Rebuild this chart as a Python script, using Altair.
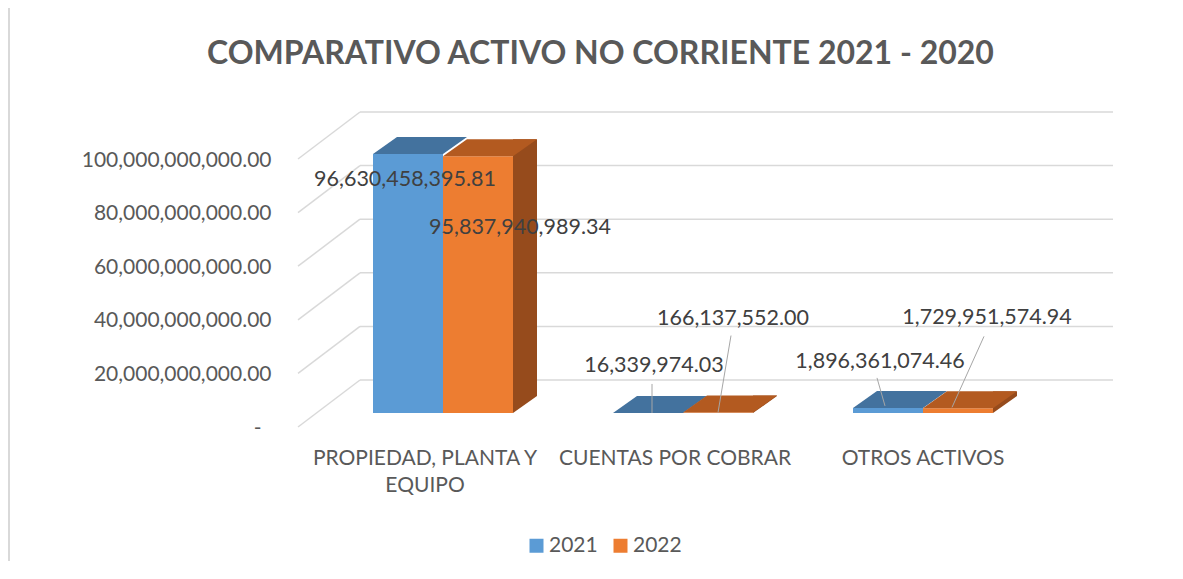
import altair as alt
import pandas as pd

# ---------------- data ----------------
categories = ["PROPIEDAD, PLANTA Y EQUIPO", "CUENTAS POR COBRAR", "OTROS ACTIVOS"]
years = ["2021", "2022"]
values_2021 = [96630458395.81, 16339974.03, 1896361074.46]
values_2022 = [95837940989.34, 166137552.00, 1729951574.94]
y_ticks = [0, 20000000000, 40000000000, 60000000000, 80000000000, 100000000000]

rows = []
for c, v1, v2 in zip(categories, values_2021, values_2022):
    rows.append({"category": c, "year": "2021", "value": v1})
    rows.append({"category": c, "year": "2022", "value": v2})
df = pd.DataFrame(rows)
ticks_df = pd.DataFrame({"tick": y_ticks})

# ---------------- styles ----------------
FONT = "Lato"
TEXT = "#595959"
LABEL_TEXT = "#404040"
GRID = "#D9D9D9"
FRONT = ["#5B9BD5", "#ED7D31"]
TOP = ["#43729E", "#B35A20"]
SIDE = "#964B1C"
DEPTH_X, DEPTH_Y = 24, 17

# label shifts (dx, dy) relative to the top-front centre of each bar
label_shift = {
    (categories[0], "2021"): (-3, 26),
    (categories[0], "2022"): (42, 72),
    (categories[1], "2021"): (6, -47),
    (categories[1], "2022"): (15, -94),
    (categories[2], "2021"): (-8, -46),
    (categories[2], "2022"): (29, -90),
}
leader_paths = {
    (categories[1], "2021"): "M 4 0 L 4 -29",
    (categories[1], "2022"): "M 0 0 L 13 -77",
    (categories[2], "2021"): "M -3 -2 L -11 -30",
    (categories[2], "2022"): "M -6 -1 L 26 -72",
}

W, H = 815, 268

x_scale = alt.Scale(domain=categories, range=[75, 695], paddingInner=100 / 240, paddingOuter=0)
X = alt.X(
    "category:N",
    scale=x_scale,
    sort=categories,
    title=None,
    axis=alt.Axis(
        labelAngle=0,
        domain=False,
        ticks=False,
        labelPadding=34,
        labelOffset={
            "condition": [
                {"test": "datum.value == 'PROPIEDAD, PLANTA Y EQUIPO'", "value": -18},
                {"test": "datum.value == 'OTROS ACTIVOS'", "value": 0},
            ],
            "value": -8,
        },
        labelFont=FONT,
        labelFontSize=21,
        labelColor=TEXT,
        labelLimit=400,
        labelLineHeight=27,
        labelExpr="datum.value == 'PROPIEDAD, PLANTA Y EQUIPO' ? ['PROPIEDAD, PLANTA Y', 'EQUIPO'] : datum.value",
    ),
)
XO = alt.XOffset("year:N", scale=alt.Scale(domain=years, paddingInner=0, paddingOuter=0))

y_scale = alt.Scale(domain=[0, 100000000000], nice=False)
y_axis = alt.Axis(
    values=y_ticks,
    grid=False,
    domain=False,
    ticks=False,
    labelPadding={"condition": {"test": "datum.value == 0", "value": 37}, "value": 27},
    labelOffset=15,
    labelFont=FONT,
    labelFontSize=21,
    labelColor=TEXT,
    labelLimit=400,
    labelExpr="datum.value == 0 ? '-' : format(datum.value, ',.2f')",
)


def yenc(field):
    return alt.Y(field, scale=y_scale, axis=y_axis, title=None)


base = alt.Chart(df)
one = alt.Chart(pd.DataFrame({"k": [0]}))

# chart frame (left edge only)
frame_left = one.mark_rect(color=GRID, strokeWidth=0).encode(
    x=alt.value(-290), x2=alt.value(-288), y=alt.value(-137), y2=alt.value(H + 148)
)

# back-wall gridlines
grid_back = alt.Chart(ticks_df).mark_rule(color=GRID, strokeWidth=1.5, yOffset=-33).encode(
    y=yenc("tick:Q"),
    x=alt.value(62),
    x2=alt.value(W),
)
# side-wall diagonals
grid_side = alt.Chart(ticks_df).mark_rule(color=GRID, strokeWidth=1.5, yOffset=14, y2Offset=-33).encode(
    y=yenc("tick:Q"),
    y2=alt.Y2("tick:Q"),
    x=alt.value(0),
    x2=alt.value(62),
)

last = base.transform_filter(alt.datum.year == "2022")
side_rect = last.mark_bar(
    width=DEPTH_X, xOffset=70 + DEPTH_X / 2, yOffset=-DEPTH_Y, y2Offset=-DEPTH_Y, color=SIDE
).encode(x=X, y=yenc("value:Q"), y2=alt.datum(0))
side_tri = last.transform_calculate(zero="0").mark_point(
    shape="M 70 0 L 70 -17 L 94 -17 Z", size=4, filled=True, opacity=1, color=SIDE, strokeWidth=0
).encode(x=X, y=yenc("zero:Q"))

front = base.mark_bar().encode(
    x=X,
    xOffset=XO,
    y=yenc("value:Q"),
    color=alt.Color(
        "year:N",
        scale=alt.Scale(domain=years, range=FRONT),
        legend=alt.Legend(
            title=None,
            orient="none",
            legendX=228,
            legendY=390,
            direction="horizontal",
            symbolType="square",
            symbolSize=196,
            symbolStrokeWidth=0,
            labelFont=FONT,
            labelFontSize=21,
            labelColor=TEXT,
            labelOffset=2,
            columnPadding=12,
        ),
    ),
)

top = base.mark_point(
    shape="M -35 0 L 35 0 L 59 -17 L -11 -17 Z", size=4, filled=True, opacity=1, strokeWidth=0
).encode(
    x=X,
    xOffset=XO,
    y=yenc("value:Q"),
    fill=alt.Fill("year:N", scale=alt.Scale(domain=years, range=TOP), legend=None),
)

layers = [frame_left, grid_back, grid_side, side_rect, side_tri, front, top]

for (c, yr), (dx, dy) in label_shift.items():
    sel = base.transform_filter((alt.datum.category == c) & (alt.datum.year == yr))
    if (c, yr) in leader_paths:
        layers.append(
            sel.mark_point(
                shape=leader_paths[(c, yr)], size=4, filled=False, opacity=1,
                stroke="#A6A6A6", strokeWidth=1,
            ).encode(x=X, xOffset=XO, y=yenc("value:Q"))
        )
    layers.append(
        sel.mark_text(
            dx=dx, dy=dy, font=FONT, fontSize=21.5, color=LABEL_TEXT, align="center", baseline="middle"
        ).encode(x=X, xOffset=XO, y=yenc("value:Q"), text=alt.Text("value:Q", format=",.2f"))
    )

chart = (
    alt.layer(*layers)
    .resolve_scale(color="independent", fill="independent")
    .properties(
        width=W,
        height=H,
        autosize=alt.AutoSizeParams(type="none"),
        padding={"left": 290, "top": 137, "right": 55, "bottom": 150},
        title=alt.TitleParams(
            "COMPARATIVO ACTIVO NO CORRIENTE 2021 - 2020",
            font=FONT,
            fontSize=32,
            fontWeight="bold",
            color=TEXT,
            anchor="middle",
            frame="group",
            dx=-105,
            offset=-63,
        ),
    )
    .configure_view(strokeWidth=0)
)

chart.save("out.html", embed_options={"renderer": "svg", "actions": False})
